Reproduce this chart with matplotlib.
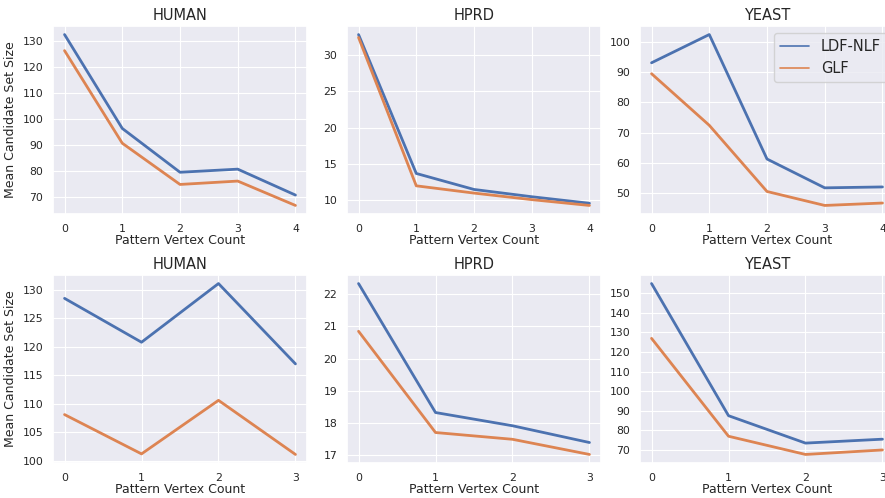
import matplotlib
matplotlib.use("Agg")
import matplotlib.pyplot as plt
from matplotlib.lines import Line2D
from matplotlib.ticker import MultipleLocator
import seaborn as sns

sns.set_theme(style="darkgrid")
plt.rcParams["font.family"] = ["DejaVu Sans"]
plt.rcParams["grid.linewidth"] = 0.8

datasets = ["HUMAN", "HPRD", "YEAST"]

# top row: pattern vertex counts 0..4
top_x = [0, 1, 2, 3, 4]
top_ldf = {
    "HUMAN": [132.5, 96.3, 79.4, 80.6, 70.6],
    "HPRD": [32.8, 13.7, 11.5, 10.5, 9.6],
    "YEAST": [93.0, 102.3, 61.3, 51.8, 52.1],
}
top_glf = {
    "HUMAN": [126.3, 90.6, 74.7, 76.0, 66.6],
    "HPRD": [32.4, 12.0, 11.0, 10.1, 9.3],
    "YEAST": [89.4, 72.4, 50.6, 46.0, 46.8],
}

# bottom row: pattern vertex counts 0..3
bot_x = [0, 1, 2, 3]
bot_ldf = {
    "HUMAN": [128.5, 120.8, 131.1, 117.0],
    "HPRD": [22.33, 18.33, 17.92, 17.40],
    "YEAST": [155.0, 87.5, 73.5, 75.5],
}
bot_glf = {
    "HUMAN": [108.1, 101.2, 110.6, 101.1],
    "HPRD": [20.85, 17.71, 17.50, 17.03],
    "YEAST": [127.0, 77.0, 67.7, 70.0],
}

blue = sns.color_palette("deep")[0]
orange = sns.color_palette("deep")[1]

W, H = 885, 498
fig = plt.figure(figsize=(W / 100, H / 100), dpi=100)

lefts = [53, 347, 640]
width = 254
rows = [(26, 214), (275, 463)]

for r, (top, bottom) in enumerate(rows):
    xs = top_x if r == 0 else bot_x
    ldf = top_ldf if r == 0 else bot_ldf
    glf = top_glf if r == 0 else bot_glf
    for c, name in enumerate(datasets):
        ax = fig.add_axes([lefts[c] / W, 1 - bottom / H, width / W, (bottom - top) / H])
        ax.plot(xs, ldf[name], color=blue, lw=2)
        ax.plot(xs, glf[name], color=orange, lw=2)
        ax.set_xticks(xs)
        if r == 1 and name == "YEAST":
            ax.yaxis.set_major_locator(MultipleLocator(10))
        ax.set_title(name, fontsize=10.5, pad=4)
        ax.set_xlabel("Pattern Vertex Count", fontsize=9, labelpad=0)
        ax.tick_params(labelsize=7.8, pad=1)
        if c == 0:
            ax.set_ylabel("Mean Candidate Set Size", fontsize=9, labelpad=4)
        if r == 0 and c == 2:
            handles = [Line2D([], [], color=blue, lw=1.2),
                       Line2D([], [], color=orange, lw=1.2)]
            ax.legend(handles, ["LDF-NLF", "GLF"], loc="upper right", fontsize=10.5)

fig.savefig("out.png", dpi=100)
